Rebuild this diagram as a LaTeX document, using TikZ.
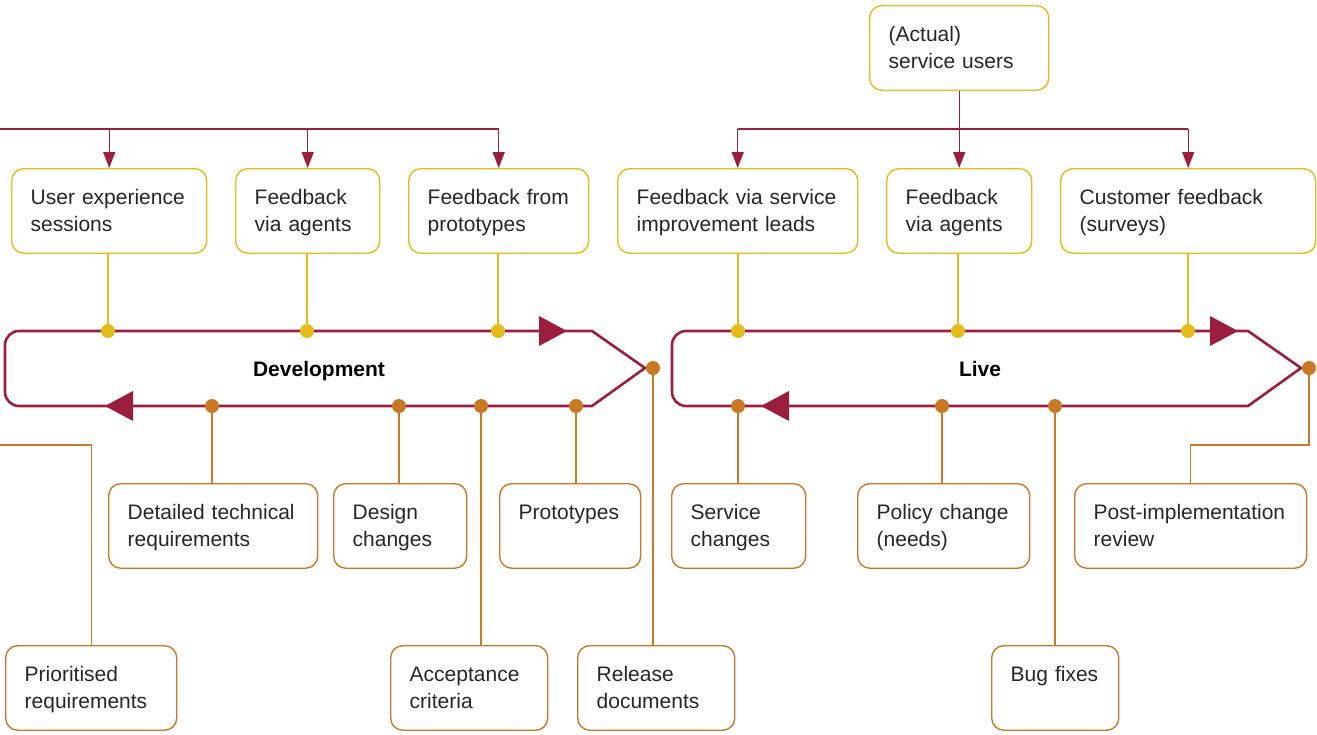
\documentclass[tikz,border=0pt]{standalone}
\usepackage{fontspec}
\setmainfont{Liberation Sans}
\usetikzlibrary{arrows.meta}

\definecolor{ochre}{RGB}{226,188,26}
\definecolor{rust}{RGB}{201,120,36}
\definecolor{wine}{RGB}{155,30,62}
\definecolor{ink}{RGB}{38,38,38}

\tikzset{
  box/.style={draw, line width=1.4pt, rounded corners=12pt, anchor=north west,
    align=left, text width=#1, inner xsep=19pt, inner ysep=20pt,
    text height=15.5pt, text depth=29pt, font=\fontsize{21}{27}\selectfont, text=ink},
  ybox/.style={box=#1, draw=ochre},
  obox/.style={box=#1, draw=rust},
  ydot/.style={circle, fill=ochre, inner sep=0pt, minimum size=14pt},
  odot/.style={circle, fill=rust, inner sep=0pt, minimum size=14pt},
  yline/.style={ochre, line width=1.3pt},
  oline/.style={rust, line width=1.3pt},
  wline/.style={wine, line width=1.3pt},
  warrow/.style={wline, -{Triangle[length=16pt,width=12pt]}},
  ring/.style={wine, line width=2.6pt},
  head/.style={fill=wine},
  phase/.style={anchor=base, font=\fontsize{21}{27}\selectfont\bfseries}
}

\begin{document}
\begin{tikzpicture}[x=1pt,y=-1pt]
  \useasboundingbox (0,0) rectangle (1317,734);

  % feedback boxes
  \node[ybox=141] (su) at (869,5) {(Actual)\\service users};
  \node[ybox=157] (ux) at (11,168) {User experience\\sessions};
  \node[ybox=106] (fa) at (235,168) {Feedback\\via agents};
  \node[ybox=142] (fp) at (408,168) {Feedback from\\prototypes};
  \node[ybox=202] (sil) at (617,168) {Feedback via service\\improvement leads};
  \node[ybox=107] (fal) at (886,168) {Feedback\\via agents};
  \node[ybox=217] (cf) at (1060,168) {Customer feedback\\(surveys)};

  % output boxes
  \node[obox=171] (dtr) at (108,483) {Detailed technical\\requirements};
  \node[obox=95] (dc) at (333,483) {Design\\changes};
  \node[obox=103] (pr) at (499,483) {Prototypes};
  \node[obox=96] (sc) at (671,483) {Service\\changes};
  \node[obox=134] (pc) at (857,483) {Policy change\\(needs)};
  \node[obox=194] (pir) at (1074,483) {Post-implementation\\review};
  \node[obox=133] (prq) at (5,645) {Prioritised\\requirements};
  \node[obox=119] (ac) at (390,645) {Acceptance\\criteria};
  \node[obox=119] (rd) at (577,645) {Release\\documents};
  \node[obox=89] (bf) at (991,645) {Bug fixes};

  % the two cycles
  \draw[ring] (592,406) -- (645,368) -- (592,331) -- (300,331)
    [rounded corners=14pt] -- (5,331) -- (5,406) -- (300,406) [sharp corners] -- cycle;
  \draw[ring] (1248,406) -- (1301,368) -- (1248,331) -- (960,331)
    [rounded corners=14pt] -- (672,331) -- (672,406) -- (960,406) [sharp corners] -- cycle;
  \fill[head] (539,316) -- (567,331) -- (539,346) -- cycle;
  \fill[head] (133,391) -- (105,406) -- (133,421) -- cycle;
  \fill[head] (1210,316) -- (1238,331) -- (1210,346) -- cycle;
  \fill[head] (789,391) -- (761,406) -- (789,421) -- cycle;
  \node[phase] (dev) at (319,376) {Development};
  \node[phase] (live) at (980,376) {Live};

  % dots on the cycles
  \node[ydot] (yd1) at (108,331) {};
  \node[ydot] (yd2) at (307,331) {};
  \node[ydot] (yd3) at (498,331) {};
  \node[ydot] (yd4) at (738,331) {};
  \node[ydot] (yd5) at (958,331) {};
  \node[ydot] (yd6) at (1188,331) {};
  \node[odot] (od1) at (212,406) {};
  \node[odot] (od2) at (399,406) {};
  \node[odot] (od3) at (481,406) {};
  \node[odot] (od4) at (576,406) {};
  \node[odot] (od5) at (653,368) {};
  \node[odot] (od6) at (738,406) {};
  \node[odot] (od7) at (942,406) {};
  \node[odot] (od8) at (1055,406) {};
  \node[odot] (od9) at (1309,368) {};

  % inputs
  \draw[yline] (ux.south -| yd1) -- (yd1);
  \draw[yline] (fa.south -| yd2) -- (yd2);
  \draw[yline] (fp.south -| yd3) -- (yd3);
  \draw[yline] (sil.south -| yd4) -- (yd4);
  \draw[yline] (fal.south -| yd5) -- (yd5);
  \draw[yline] (cf.south -| yd6) -- (yd6);

  % outputs
  \draw[oline] (od1) -- (od1 |- dtr.north);
  \draw[oline] (od2) -- (od2 |- dc.north);
  \draw[oline] (od3) -- (od3 |- ac.north);
  \draw[oline] (od4) -- (od4 |- pr.north);
  \draw[oline] (od5) -- (od5 |- rd.north);
  \draw[oline] (od6) -- (od6 |- sc.north);
  \draw[oline] (od7) -- (od7 |- pc.north);
  \draw[oline] (od8) -- (od8 |- bf.north);
  \draw[oline] (od9) -- ++(0,77) -| (pir.north);
  \coordinate (lout) at (0,445);
  \draw[oline] (lout) -| (prq.north);

  % who gives feedback
  \coordinate (lin) at (0,129);
  \draw[wline] (lin) -- (fp.north |- lin);
  \foreach \b in {ux,fa,fp} \draw[warrow] (\b.north |- lin) -- (\b.north);
  \draw[wline] (sil.north |- lin) -- (cf.north |- lin);
  \draw[wline] (su.south) -- (su.south |- lin);
  \foreach \b in {sil,fal,cf} \draw[warrow] (\b.north |- lin) -- (\b.north);
\end{tikzpicture}
\end{document}
